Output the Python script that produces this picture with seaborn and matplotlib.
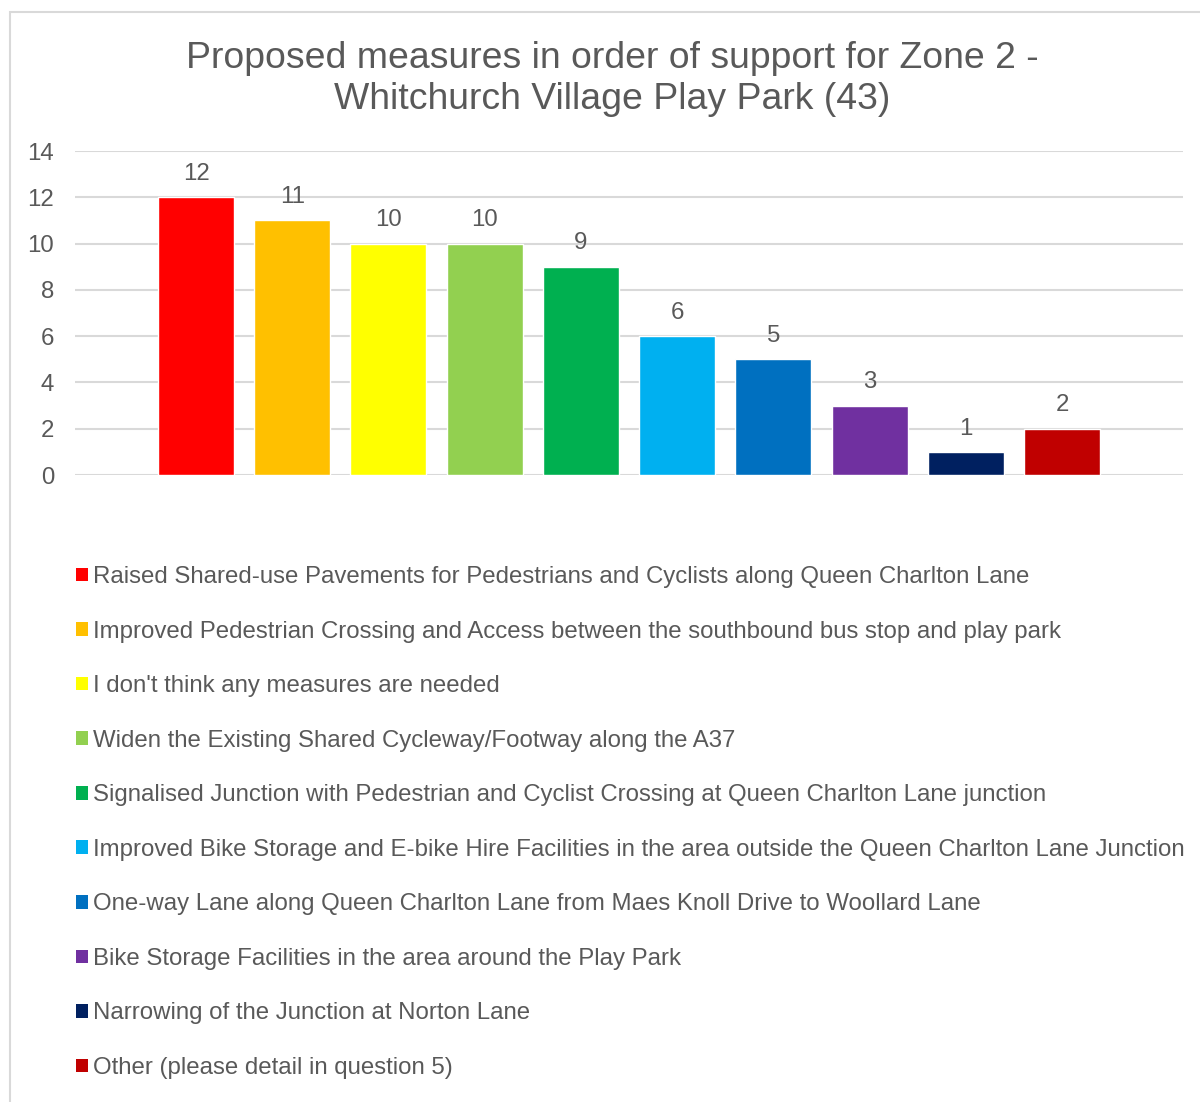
import numpy as np
import pandas as pd
import seaborn as sns
from matplotlib import pyplot as plt
from matplotlib.patches import Patch, Rectangle


measures = [
    'Raised Shared-use Pavements for Pedestrians and Cyclists along Queen Charlton Lane',
    'Improved Pedestrian Crossing and Access between the southbound bus stop and play park',
    "I don't think any measures are needed",
    'Widen the Existing Shared Cycleway/Footway along the A37',
    'Signalised Junction with Pedestrian and Cyclist Crossing at Queen Charlton Lane junction',
    'Improved Bike Storage and E-bike Hire Facilities in the area outside the Queen Charlton Lane Junction',
    'One-way Lane along Queen Charlton Lane from Maes Knoll Drive to Woollard Lane',
    'Bike Storage Facilities in the area around the Play Park',
    'Narrowing of the Junction at Norton Lane',
    'Other (please detail in question 5)',
]
counts = [12, 11, 10, 10, 9, 6, 5, 3, 1, 2]
colors = ['#FF0000', '#FFC000', '#FFFF00', '#92D050', '#00B050',
          '#00B0F0', '#0070C0', '#7030A0', '#002060', '#C00000']
y_ticks = [0, 2, 4, 6, 8, 10, 12, 14]

df = pd.DataFrame({'measure': measures, 'count': counts})

sns.set_style('white')
plt.rcParams['font.family'] = ['Liberation Sans', 'DejaVu Sans']
text_col = '#595959'
fs = 17.3

fig = plt.figure(figsize=(12, 11.02), dpi=100)
ax = fig.add_axes([75 / 1200, 1 - 475 / 1102, (1183 - 75) / 1200, (475 - 151) / 1102])

sns.barplot(data=df, x='measure', y='count', hue='measure', palette=colors,
            dodge=False, legend=False, width=0.79, saturation=1, ax=ax)

# data labels above bars
for i, v in enumerate(counts):
    ax.text(i, v + 0.53, str(v), ha='center', va='bottom', fontsize=fs, color=text_col)

ax.set_xlim(-1.258, 9 + 1.258)
ax.set_ylim(0, 14)
ax.set_yticks(y_ticks)
ax.set_xticks([])
ax.set_xlabel('')
ax.set_ylabel('')
ax.tick_params(axis='y', length=0, pad=15, labelsize=fs, labelcolor=text_col)
ax.yaxis.grid(True, color='#D9D9D9', linewidth=1.5)
ax.set_axisbelow(True)
for s in ax.spines.values():
    s.set_visible(False)

fig.text(612 / 1200, 1 - 79 / 1102,
         'Proposed measures in order of support for Zone 2 -\nWhitchurch Village Play Park (43)',
         ha='center', va='center', fontsize=26.9, color=text_col, linespacing=1.25)

handles = [Patch(facecolor=c, edgecolor='none') for c in colors]
fig.legend(handles, measures, loc='upper left', bbox_to_anchor=(76 / 1200, 1 - 566 / 1102),
           frameon=False, fontsize=fs, labelcolor=text_col, handlelength=0.5,
           handleheight=0.5, handletextpad=0.2, labelspacing=1.355, borderpad=0,
           borderaxespad=0)

# chart border (cut off at right and bottom)
fig.patches.append(Rectangle((10 / 1200, -0.1), 1.2, (1 - 12 / 1102) + 0.1,
                             transform=fig.transFigure, fill=False,
                             edgecolor='#D9D9D9', linewidth=1.5))

fig.savefig('out.png', dpi=100)
